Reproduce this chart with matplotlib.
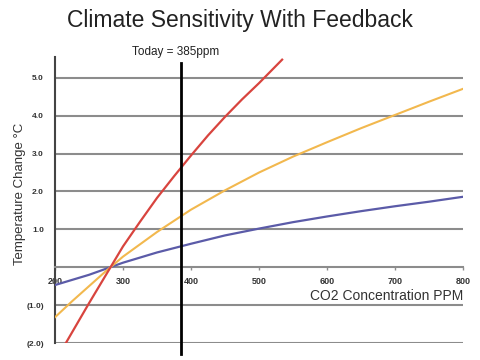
import matplotlib
matplotlib.use("Agg")
import matplotlib.pyplot as plt
import numpy as np

plt.rcParams['font.family'] = ['Liberation Sans', 'DejaVu Sans']

# values (ppm, deg C)
low_ppm = [200, 250, 300, 350, 400, 450, 500, 550, 600, 650, 700, 750, 800]
low_temp = [-0.47, -0.2, 0.12, 0.39, 0.62, 0.84, 1.02, 1.19, 1.34, 1.48, 1.61, 1.73, 1.86]

mid_ppm = [200, 225, 250, 275, 300, 350, 400, 450, 500, 550, 600, 650, 700, 750, 800]
mid_temp = [-1.32, -0.9, -0.5, -0.1, 0.28, 0.93, 1.52, 2.03, 2.5, 2.92, 3.3, 3.67, 4.02, 4.37, 4.71]

high_ppm = [216, 250, 275, 300, 325, 350, 375, 400, 425, 450, 475, 500, 534]
high_temp = [-2.0, -0.95, -0.2, 0.55, 1.2, 1.83, 2.4, 2.95, 3.48, 3.97, 4.43, 4.86, 5.48]

today = 385
x_ticks = [200, 300, 400, 500, 600, 700, 800]
y_ticks = [5, 4, 3, 2, 1, 0, -1, -2]
y_labels = ['5.0', '4.0', '3.0', '2.0', '1.0', '', '(1.0)', '(2.0)']

fig = plt.figure(figsize=(4.8, 3.6), dpi=100)
ax = fig.add_axes([55 / 480, 1 - 343 / 360, 408 / 480, 286 / 360])

for y in y_ticks:
    if y != 0:
        ax.axhline(y, color='#8c8c8c', lw=1.5, zorder=1)

ax.plot(low_ppm, low_temp, color='#5b5ba8', lw=1.6, zorder=3)
ax.plot(mid_ppm, mid_temp, color='#f2b84e', lw=1.5, zorder=3)
ax.plot(high_ppm, high_temp, color='#d8443e', lw=1.6, zorder=3)

ax.plot([today, today], [-2.3, 5.4], color='black', lw=2, zorder=4, clip_on=False)
ax.text(today - 8, 5.68, 'Today = 385ppm', ha='center', va='center', fontsize=8.5, color='#222222')

ax.set_xlim(200, 800)
ax.set_ylim(-2.0, 5.55)

ax.spines['top'].set_visible(False)
ax.spines['right'].set_visible(False)
ax.spines['left'].set_color('#444444')
ax.spines['left'].set_linewidth(1.5)
ax.spines['bottom'].set_position(('data', 0))
ax.spines['bottom'].set_color('#8c8c8c')
ax.spines['bottom'].set_linewidth(1.5)

ax.set_xticks(x_ticks)
ax.set_xticklabels([str(t) for t in x_ticks], fontsize=6.5, fontweight='bold', color='#333333')
ax.tick_params(axis='x', length=2, width=1, color='#8c8c8c', pad=5)
ax.set_yticks(y_ticks)
ax.set_yticklabels(y_labels, fontsize=6, fontweight='bold', color='#333333')
ax.tick_params(axis='y', length=0, pad=8)

ax.text(800, -0.75, 'CO2 Concentration PPM', ha='right', va='center', fontsize=10, color='#333333')
ax.set_ylabel('Temperature Change °C', fontsize=9.5, color='#333333')
ax.yaxis.set_label_coords(-0.07, 0.52)

fig.text(0.5, 1 - 20 / 360, 'Climate Sensitivity With Feedback', ha='center', va='center',
         fontsize=16.5, color='#222222')

fig.savefig('out.png', dpi=100)
